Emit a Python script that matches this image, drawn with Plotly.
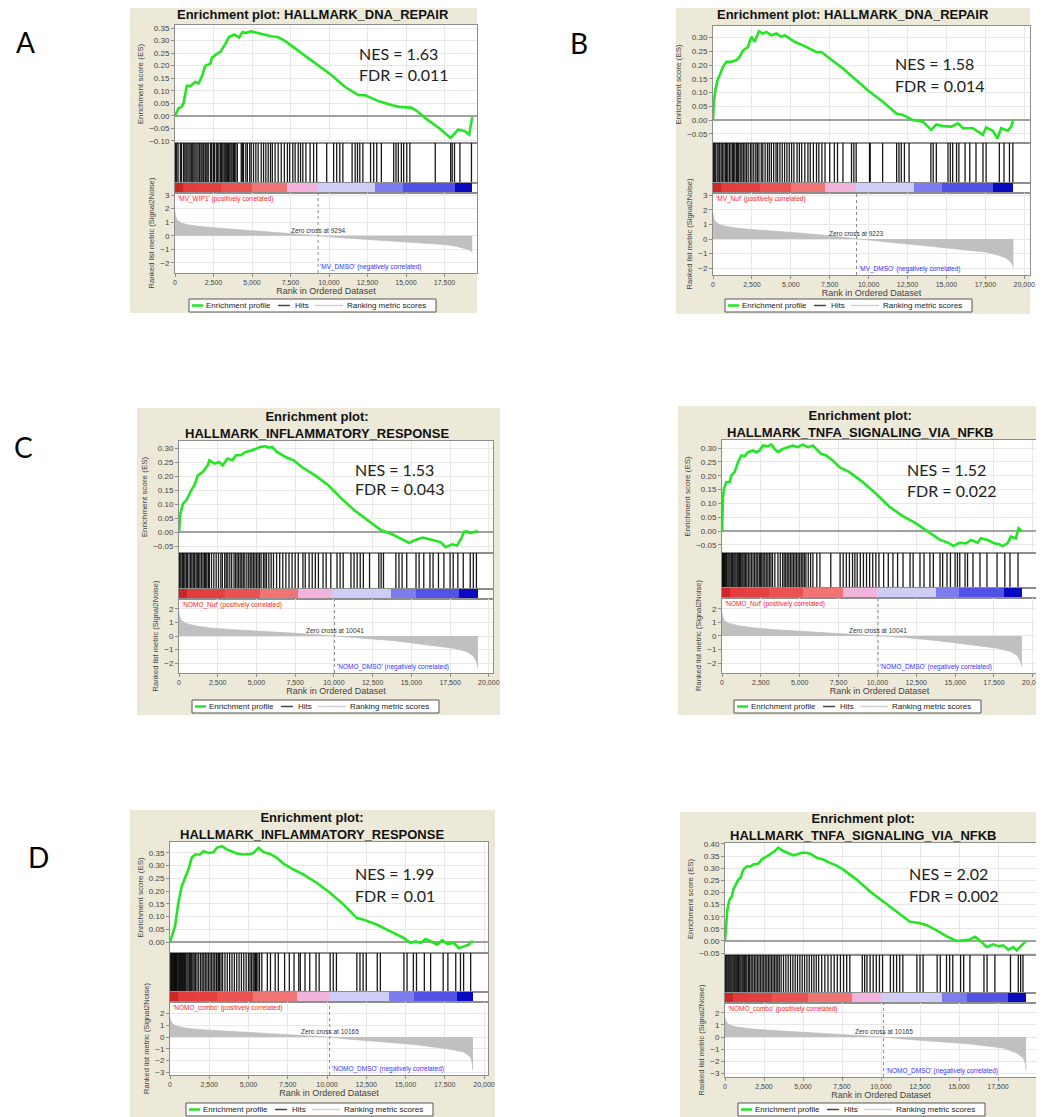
import plotly.graph_objects as go

# page is rendered with an 8px body margin: figure is shifted, so coordinates are compensated
OFF = 8
W, H = 1044 - OFF, 1117 - OFF

# ---------------- data ----------------
X_TICKS = [0, 2500, 5000, 7500, 10000, 12500, 15000, 17500, 20000]
X_TICK_TEXT = ["0", "2,500", "5,000", "7,500", "10,000", "12,500", "15,000", "17,500", "20,000"]
BAR_LEVELS = [1.0, 0.85, 0.8, 0.6, 0.4, 0.15, -0.15, -0.45, -0.65, -1.0]

# Panel A
A_title = "Enrichment plot: HALLMARK_DNA_REPAIR"
A_pos = "'MV_WIP1' (positively correlated)"
A_neg = "'MV_DMSO' (negatively correlated)"
A_nes, A_fdr = "1.63", "0.011"
A_zero_cross = 9294
A_es_ticks = [-0.10, -0.05, 0.0, 0.05, 0.10, 0.15, 0.20, 0.25, 0.30, 0.35]
A_met_ticks = [-2, -1, 0, 1, 2, 3]
A_es_rank = [0, 220, 440, 550, 770, 985, 1310, 1530, 1750, 1970, 2300, 2400, 2735, 2950, 3280, 3500, 3830, 4160, 4380, 4600,
             4920, 5360, 5800, 6240, 6670, 7110, 7550, 8420, 9300, 10170, 11050, 11930, 12360, 13240, 14110, 14550, 15320,
             15650, 16300, 17180, 17900, 18150, 18380, 18800, 19100, 19300]
A_es = [0.0, 0.03, 0.036, 0.05, 0.12, 0.118, 0.135, 0.13, 0.158, 0.20, 0.208, 0.232, 0.248, 0.255, 0.288, 0.314, 0.324, 0.312,
        0.334, 0.33, 0.337, 0.33, 0.324, 0.317, 0.314, 0.30, 0.28, 0.241, 0.20, 0.162, 0.115, 0.082, 0.082, 0.058, 0.042,
        0.036, 0.033, 0.022, -0.011, -0.05, -0.088, -0.07, -0.055, -0.06, -0.075, -0.005]
A_hits = [30, 110, 200, 350, 430, 560, 640, 720, 790, 900, 980, 1060, 1150, 1230, 1310, 1420, 1500, 1600, 1690, 1760, 1850,
          1950, 2010, 2080, 2160, 2300, 2380, 2490, 2560, 2680, 2760, 2850, 2950, 3030, 3110, 3190, 3260, 3330, 3410, 3480,
          3560, 3640, 3710, 3800, 3860, 3950, 4050, 4300, 4380, 4450, 4600, 4700, 4850, 4950, 5100, 5250, 5400, 5600, 5750,
          5900, 6050, 6200, 6320, 6500, 6700, 6900, 7100, 7300, 7450, 7650, 7800, 8000, 8150, 8300, 8500, 8770, 9000, 9200,
          9850, 10300, 10500, 10700, 10900, 11500, 11700, 11850, 12000, 12200, 12700, 12900, 13100, 13400, 14200, 14350,
          14500, 14700, 14850, 15050, 15250, 16900, 17900, 18000, 18150, 18500, 19250]
A_met_rank = [0, 50, 150, 400, 800, 1500, 2500, 4000, 5500, 7000, 8500, 9294, 10500, 12000, 13500, 15000, 16500, 17500,
              18300, 18800, 19100, 19250, 19300]
A_met = [1.75, 1.4, 1.15, 0.95, 0.82, 0.7, 0.6, 0.47, 0.36, 0.25, 0.12, 0.0, -0.12, -0.23, -0.33, -0.43, -0.55, -0.65,
         -0.78, -0.9, -1.02, -1.15, -1.25]
A_bar_edges = [0, 500, 1500, 3000, 5000, 7300, 9300, 13000, 14800, 18200, 19300]

# Panel B
B_title = "Enrichment plot: HALLMARK_DNA_REPAIR"
B_pos = "'MV_Nuf' (positively correlated)"
B_neg = "'MV_DMSO' (negatively correlated)"
B_nes, B_fdr = "1.58", "0.014"
B_zero_cross = 9223
B_es_ticks = [-0.05, 0.0, 0.05, 0.10, 0.15, 0.20, 0.25, 0.30]
B_met_ticks = [-2, -1, 0, 1, 2, 3]
B_es_rank = [0, 64, 170, 320, 430, 640, 860, 1180, 1500, 1710, 1930, 2250, 2460, 2680, 2950, 3210, 3430, 3750, 4070, 4390,
             4600, 4930, 5250, 5780, 6210, 6640, 6960, 7500, 8350, 9210, 10060, 10920, 11780, 12210, 12850, 13490, 14030,
             14350, 14780, 15310, 15740, 16060, 16700, 17340, 17550, 17980, 18270, 18520, 18950, 19160, 19300]
B_es = [0.0, 0.073, 0.115, 0.151, 0.163, 0.194, 0.212, 0.212, 0.218, 0.23, 0.254, 0.266, 0.303, 0.285, 0.323, 0.315, 0.321,
        0.309, 0.315, 0.303, 0.309, 0.297, 0.285, 0.272, 0.26, 0.248, 0.248, 0.224, 0.188, 0.145, 0.103, 0.067, 0.024,
        0.018, 0.0, -0.006, -0.036, -0.016, -0.022, -0.024, -0.012, -0.03, -0.03, -0.054, -0.027, -0.039, -0.067, -0.03,
        -0.039, -0.024, 0.002]
B_hits = [20, 80, 150, 260, 330, 420, 520, 600, 700, 800, 870, 950, 1050, 1150, 1250, 1320, 1400, 1500, 1580, 1650, 1750,
          1850, 1950, 2050, 2150, 2260, 2400, 2500, 2620, 2750, 2850, 2950, 3100, 3200, 3350, 3500, 3620, 3750, 3900, 4050,
          4150, 4300, 4450, 4600, 4750, 4900, 5050, 5200, 5400, 5550, 5700, 5900, 6100, 6250, 6450, 6650, 6800, 7000, 7200,
          7500, 7800, 8000, 8350, 8900, 9050, 9200, 10060, 10100, 10900, 11800, 11950, 12100, 12300, 12600, 14000, 14150,
          14350, 15100, 15250, 15400, 15650, 15800, 16200, 16500, 16900, 17350, 17550, 18400, 18700, 19050, 19270]
B_met_rank = [0, 50, 150, 400, 800, 1500, 2500, 4000, 5500, 7000, 8500, 9223, 10500, 12000, 13500, 15000, 16500, 17500,
              18300, 18800, 19100, 19250, 19300]
B_met = [1.8, 1.45, 1.2, 1.0, 0.88, 0.75, 0.65, 0.55, 0.42, 0.28, 0.1, 0.0, -0.15, -0.3, -0.45, -0.6, -0.76, -0.9, -1.1,
         -1.3, -1.55, -1.8, -2.0]
B_bar_edges = [0, 500, 1500, 3000, 5000, 7200, 9200, 12900, 14700, 18000, 19300]

# Panel C (left)
CL_title = "Enrichment plot:<br>HALLMARK_INFLAMMATORY_RESPONSE"
CL_pos = "'NOMO_Nuf' (positively correlated)"
CL_neg = "'NOMO_DMSO' (negatively correlated)"
CL_nes, CL_fdr = "1.53", "0.043"
CL_zero_cross = 10041
CL_es_ticks = [-0.05, 0.0, 0.05, 0.10, 0.15, 0.20, 0.25, 0.30]
CL_met_ticks = [-2, -1, 0, 1, 2]
CL_es_rank = [0, 85, 256, 470, 790, 1000, 1215, 1535, 1855, 1960, 2280, 2600, 2815, 3130, 3450, 3670, 3990, 4300, 4730,
              5050, 5270, 5590, 5800, 6010, 6330, 6870, 7400, 7930, 8780, 9640, 10490, 11340, 12200, 13050, 13690, 14330,
              14860, 15180, 15710, 16030, 16570, 16890, 17210, 17630, 17950, 18270, 18380, 18590, 18800, 19300]
CL_es = [0.0, 0.065, 0.101, 0.113, 0.149, 0.167, 0.202, 0.214, 0.238, 0.256, 0.244, 0.25, 0.238, 0.262, 0.256, 0.274,
         0.274, 0.286, 0.292, 0.298, 0.304, 0.306, 0.301, 0.304, 0.286, 0.268, 0.256, 0.232, 0.202, 0.167, 0.119, 0.077,
         0.042, 0.006, -0.006, -0.024, -0.039, -0.03, -0.02, -0.024, -0.03, -0.036, -0.054, -0.044, -0.048, -0.018, 0.0,
         0.002, -0.004, 0.004]
CL_hits = [10, 60, 130, 220, 300, 380, 470, 540, 650, 750, 830, 920, 1000, 1100, 1180, 1260, 1350, 1450, 1550, 1640, 1720,
           1800, 1900, 1960, 2100, 2250, 2400, 2550, 2700, 2800, 2950, 3050, 3150, 3280, 3400, 3550, 3650, 3750, 3850, 3950,
           4050, 4150, 4250, 4380, 4500, 4600, 4700, 4800, 4900, 5000, 5100, 5200, 5300, 5450, 5550, 5650, 5800, 5950,
           6100, 6300, 6500, 6700, 6900, 7100, 7300, 7500, 7700, 8000, 8150, 8400, 8600, 8800, 9000, 9300, 9500, 9800,
           10200, 10400, 10600, 11100, 11300, 11500, 11700, 11900, 12300, 12900, 13050, 13200, 14000, 14200, 14400, 14700,
           15300, 15500, 15800, 16200, 16400, 16750, 17100, 17500, 17700, 18000, 18350, 18800, 19000, 19200]
CL_met_rank = [0, 50, 150, 400, 1100, 2000, 3240, 5370, 7500, 9000, 10041, 11770, 13900, 16030, 17740, 18590, 19000,
               19200, 19300]
CL_met = [1.7, 1.4, 1.15, 0.95, 0.74, 0.6, 0.49, 0.32, 0.2, 0.09, 0.0, -0.12, -0.35, -0.67, -0.91, -1.16, -1.5, -1.9, -2.4]
CL_bar_edges = [0, 500, 1500, 3000, 5200, 7700, 9900, 13700, 15300, 18050, 19300]

# Panel C (right)
CR_title = "Enrichment plot:<br>HALLMARK_TNFA_SIGNALING_VIA_NFKB"
CR_pos = "'NOMO_Nuf' (positively correlated)"
CR_neg = "'NOMO_DMSO' (negatively correlated)"
CR_nes, CR_fdr = "1.52", "0.022"
CR_zero_cross = 10041
CR_es_ticks = [-0.05, 0.0, 0.05, 0.10, 0.15, 0.20, 0.25, 0.30]
CR_met_ticks = [-2, -1, 0, 1, 2]
CR_es_rank = [0, 64, 128, 280, 490, 600, 810, 1030, 1240, 1460, 1670, 1990, 2210, 2420, 2630, 2950, 3170, 3380, 3600,
              3920, 4240, 4560, 4880, 5200, 5520, 5850, 6060, 6380, 6700, 7130, 7560, 8200, 9060, 9910, 10770, 11630,
              12480, 13340, 13980, 14630, 14880, 15270, 15700, 16020, 16450, 16660, 17090, 17520, 17840, 18050, 18370,
              18590, 18910, 19080, 19300]
CR_es = [0.0, 0.124, 0.153, 0.177, 0.177, 0.201, 0.213, 0.249, 0.273, 0.27, 0.285, 0.291, 0.285, 0.291, 0.309, 0.306,
         0.313, 0.297, 0.285, 0.297, 0.303, 0.309, 0.303, 0.312, 0.303, 0.309, 0.297, 0.279, 0.273, 0.255, 0.231, 0.213,
         0.177, 0.135, 0.088, 0.054, 0.028, -0.006, -0.03, -0.044, -0.054, -0.042, -0.044, -0.032, -0.042, -0.026, -0.032,
         -0.044, -0.047, -0.054, -0.044, -0.02, -0.026, 0.01, 0.0]
CR_hits = [10, 50, 100, 160, 230, 300, 380, 450, 520, 600, 680, 760, 830, 900, 980, 1050, 1130, 1200, 1280, 1350, 1430,
           1520, 1600, 1700, 1800, 1900, 2000, 2100, 2200, 2300, 2400, 2480, 2560, 2650, 2750, 2850, 2950, 3050, 3150, 3250,
           3400, 3600, 3750, 3900, 4000, 4100, 4200, 4300, 4400, 4500, 4600, 4700, 4800, 4900, 5000, 5100, 5200, 5300,
           5400, 5550, 5700, 5850, 6100, 6300, 7000, 7600, 7800, 8000, 8200, 8400, 8550, 8700, 8900, 9100, 9300, 9500,
           9700, 9900, 10100, 10400, 10700, 11000, 11300, 11650, 12100, 12300, 12740, 13000, 13380, 13600, 14030, 14200,
           14480, 14700, 15000, 15150, 15300, 15640, 15800, 16150, 16600, 17050, 17700, 18200, 18530, 19050]
CR_met_rank = [0, 50, 150, 400, 1100, 2000, 3240, 5370, 7500, 9000, 10041, 11770, 13900, 16030, 17740, 18590, 19000,
               19200, 19300]
CR_met = [1.7, 1.4, 1.15, 0.95, 0.75, 0.6, 0.48, 0.32, 0.2, 0.09, 0.0, -0.12, -0.35, -0.65, -0.9, -1.15, -1.45, -1.85, -2.3]
CR_bar_edges = [0, 500, 1500, 3000, 5200, 7770, 9960, 13770, 15270, 18160, 19300]

# Panel D (left)
DL_title = "Enrichment plot:<br>HALLMARK_INFLAMMATORY_RESPONSE"
DL_pos = "'NOMO_combo' (positively correlated)"
DL_neg = "'NOMO_DMSO' (negatively correlated)"
DL_nes, DL_fdr = "1.99", "0.01"
DL_zero_cross = 10165
DL_es_ticks = [0.0, 0.05, 0.10, 0.15, 0.20, 0.25, 0.30, 0.35]
DL_met_ticks = [-3, -2, -1, 0, 1, 2]
DL_es_rank = [0, 106, 320, 530, 745, 957, 1170, 1380, 1600, 1915, 2130, 2450, 2765, 2980, 3300, 3620, 3940, 4255, 4680,
              5100, 5320, 5640, 5960, 6380, 6810, 7230, 7870, 8510, 9360, 10210, 11060, 11910, 12340, 13190, 14040, 14890,
              15320, 15640, 15960, 16280, 16600, 17020, 17340, 17660, 18090, 18400, 18720, 19040, 19150, 19300]
DL_es = [0.0, 0.022, 0.062, 0.154, 0.219, 0.252, 0.285, 0.331, 0.344, 0.344, 0.357, 0.35, 0.353, 0.37, 0.377, 0.364, 0.357,
         0.348, 0.344, 0.346, 0.35, 0.37, 0.353, 0.346, 0.331, 0.308, 0.285, 0.265, 0.232, 0.193, 0.147, 0.094, 0.088,
         0.068, 0.042, 0.016, -0.004, 0.003, -0.004, 0.012, 0.003, -0.01, 0.007, -0.007, -0.004, -0.024, -0.017, -0.01,
         -0.001, 0.003]
DL_hits = [20, 90, 150, 210, 260, 300, 350, 400, 440, 500, 560, 610, 680, 730, 800, 870, 930, 1000, 1080, 1150, 1230, 1300,
           1380, 1460, 1540, 1620, 1720, 1830, 1950, 2050, 2150, 2250, 2350, 2450, 2550, 2650, 2750, 2850, 2950, 3000, 3100,
           3150, 3250, 3350, 3500, 3650, 3800, 3950, 4100, 4250, 4400, 4550, 4700, 4850, 5000, 5100, 5200, 5300, 5400,
           5450, 5500, 5600, 5700, 5850, 6200, 6400, 6700, 6900, 7300, 7600, 7900, 8200, 8300, 8600, 8900, 9300, 9500,
           10200, 10400, 10600, 11900, 12100, 12300, 12500, 13200, 13400, 14900, 15100, 15500, 15700, 16200, 16600, 17400,
           17700, 18200, 18500, 18700, 19150]
DL_met_rank = [0, 50, 150, 400, 850, 1600, 2770, 4890, 7020, 9150, 10165, 11280, 13400, 15530, 17660, 18720, 19150, 19250,
               19300]
DL_met = [1.7, 1.4, 1.14, 0.95, 0.8, 0.67, 0.57, 0.4, 0.26, 0.11, 0.0, -0.17, -0.37, -0.63, -1.0, -1.29, -1.71, -2.3, -2.9]
DL_bar_edges = [0, 500, 1500, 3000, 5300, 8080, 10150, 13940, 15530, 18300, 19300]

# Panel D (right)
DR_title = "Enrichment plot:<br>HALLMARK_TNFA_SIGNALING_VIA_NFKB"
DR_pos = "'NOMO_combo' (positively correlated)"
DR_neg = "'NOMO_DMSO' (negatively correlated)"
DR_nes, DR_fdr = "2.02", "0.002"
DR_zero_cross = 10165
DR_es_ticks = [-0.05, 0.0, 0.05, 0.10, 0.15, 0.20, 0.25, 0.30, 0.35, 0.40]
DR_met_ticks = [-3, -2, -1, 0, 1, 2]
DR_es_rank = [0, 64, 150, 280, 430, 530, 700, 855, 1000, 1175, 1390, 1600, 1815, 2140, 2350, 2560, 2885, 3200, 3420, 3740,
              4060, 4380, 4590, 4910, 5235, 5555, 5875, 6300, 6730, 7160, 7585, 8440, 9295, 10150, 11000, 11860, 12390,
              12930, 13570, 14210, 14850, 15280, 15700, 16030, 16450, 16770, 17200, 17520, 17840, 18160, 18480, 18700,
              18910, 19120, 19300]
DR_es = [0.0, 0.072, 0.128, 0.169, 0.183, 0.211, 0.232, 0.253, 0.26, 0.294, 0.308, 0.306, 0.315, 0.319, 0.336, 0.343,
         0.357, 0.371, 0.385, 0.371, 0.361, 0.353, 0.357, 0.364, 0.364, 0.357, 0.343, 0.336, 0.322, 0.311, 0.294, 0.253,
         0.204, 0.163, 0.121, 0.079, 0.075, 0.065, 0.044, 0.019, 0.0, 0.003, 0.006, 0.017, -0.004, -0.025, -0.014, -0.022,
         -0.018, -0.036, -0.025, -0.039, -0.025, -0.011, 0.0]
DR_hits = [10, 60, 120, 190, 250, 320, 380, 450, 520, 590, 650, 720, 800, 870, 950, 1020, 1100, 1170, 1250, 1330, 1400,
           1500, 1580, 1680, 1780, 1880, 1980, 2080, 2180, 2280, 2380, 2480, 2580, 2680, 2780, 2880, 2980, 3080, 3180, 3280,
           3380, 3480, 3600, 3750, 3900, 4050, 4200, 4350, 4500, 4650, 4800, 4950, 5100, 5250, 5400, 5550, 5700, 5850,
           6000, 6200, 6400, 6600, 6800, 7000, 7200, 7400, 7600, 7800, 8000, 8800, 8950, 9100, 9300, 9500, 9700, 9900,
           10100, 10600, 10800, 11000, 11200, 11400, 12300, 12500, 12700, 13600, 13800, 14200, 14400, 14600, 15100, 15300,
           15700, 16600, 16800, 17300, 18300, 18800, 18950, 19100]
DR_met_rank = [0, 50, 150, 400, 750, 1600, 2880, 5020, 7160, 9300, 10165, 11430, 13570, 15700, 17840, 18700, 19120, 19250,
               19300]
DR_met = [1.6, 1.35, 1.12, 0.95, 0.83, 0.68, 0.56, 0.39, 0.25, 0.11, 0.0, -0.17, -0.36, -0.58, -0.92, -1.33, -1.75, -2.2,
          -2.75]
DR_bar_edges = [0, 500, 1500, 3000, 5300, 8120, 10090, 13890, 15490, 18160, 19300]

# ---------------- layout geometry (page pixels) ----------------
PANELS = [
    dict(title=A_title, pos=A_pos, neg=A_neg, nes=A_nes, fdr=A_fdr, zc=A_zero_cross, es_ticks=A_es_ticks,
         met_ticks=A_met_ticks, es_rank=A_es_rank, es=A_es, hits=A_hits, met_rank=A_met_rank, met=A_met,
         bar=A_bar_edges,
         bg=(130, 3, 477, 313), px0=175, px1=477, xmax=19610, title_xy=(313, 15), tsize=13,
         es_px=(25, 143), es_rng=(-0.108, 0.362), hits_px=(143, 183), bar_px=(183, 193), met_px=(193, 273),
         met_rng=(-2.74, 3.15), leg=(189, 299), nes_xy=(357, 53, 75)),
    dict(title=B_title, pos=B_pos, neg=B_neg, nes=B_nes, fdr=B_fdr, zc=B_zero_cross, es_ticks=B_es_ticks,
         met_ticks=B_met_ticks, es_rank=B_es_rank, es=B_es, hits=B_hits, met_rank=B_met_rank, met=B_met,
         bar=B_bar_edges,
         bg=(676, 6, 1030, 314), px0=713, px1=1030, xmax=20370, title_xy=(853, 15), tsize=13,
         es_px=(26, 143), es_rng=(-0.0836, 0.3425), hits_px=(143, 183), bar_px=(183, 193), met_px=(193, 275),
         met_rng=(-2.48, 3.17), leg=(725, 299), nes_xy=(893, 63, 86)),
    dict(title=CL_title, pos=CL_pos, neg=CL_neg, nes=CL_nes, fdr=CL_fdr, zc=CL_zero_cross, es_ticks=CL_es_ticks,
         met_ticks=CL_met_ticks, es_rank=CL_es_rank, es=CL_es, hits=CL_hits, met_rank=CL_met_rank, met=CL_met,
         bar=CL_bar_edges,
         bg=(137, 408, 500, 715), px0=179, px1=493, xmax=20270, title_xy=(317, 425), tsize=13,
         es_px=(441, 553), es_rng=(-0.075, 0.325), hits_px=(553, 589), bar_px=(589, 599), met_px=(599, 673),
         met_rng=(-2.74, 2.74), leg=(192, 700), nes_xy=(353, 470, 489)),
    dict(title=CR_title, pos=CR_pos, neg=CR_neg, nes=CR_nes, fdr=CR_fdr, zc=CR_zero_cross, es_ticks=CR_es_ticks,
         met_ticks=CR_met_ticks, es_rank=CR_es_rank, es=CR_es, hits=CR_hits, met_rank=CR_met_rank, met=CR_met,
         bar=CR_bar_edges,
         bg=(678, 406, 1042, 715), px0=722, px1=1037, xmax=20270, title_xy=(860, 424), tsize=13,
         es_px=(440, 553), es_rng=(-0.079, 0.329), hits_px=(553, 588), bar_px=(588, 598), met_px=(598, 673),
         met_rng=(-2.74, 2.81), leg=(734, 700), nes_xy=(905, 470, 490)),
    dict(title=DL_title, pos=DL_pos, neg=DL_neg, nes=DL_nes, fdr=DL_fdr, zc=DL_zero_cross, es_ticks=DL_es_ticks,
         met_ticks=DL_met_ticks, es_rank=DL_es_rank, es=DL_es, hits=DL_hits, met_rank=DL_met_rank, met=DL_met,
         bar=DL_bar_edges,
         bg=(130, 810, 495, 1117), px0=170, px1=488, xmax=20255, title_xy=(312, 826), tsize=13,
         es_px=(842, 953), es_rng=(-0.043, 0.393), hits_px=(953, 992), bar_px=(992, 1002), met_px=(1002, 1075),
         met_rng=(-3.25, 3.0), leg=(186, 1103), nes_xy=(353, 873, 895)),
    dict(title=DR_title, pos=DR_pos, neg=DR_neg, nes=DR_nes, fdr=DR_fdr, zc=DR_zero_cross, es_ticks=DR_es_ticks,
         met_ticks=DR_met_ticks, es_rank=DR_es_rank, es=DR_es, hits=DR_hits, met_rank=DR_met_rank, met=DR_met,
         bar=DR_bar_edges,
         bg=(680, 812, 1044, 1117), px0=725, px1=1037, xmax=20000, title_xy=(863, 827), tsize=13,
         es_px=(843, 955), es_rng=(-0.058, 0.404), hits_px=(955, 993), bar_px=(993, 1003), met_px=(1003, 1077),
         met_rng=(-3.33, 2.83), leg=(738, 1103), nes_xy=(907, 873, 895)),
]

LETTERS = [("A", 25, 42), ("B", 579, 43), ("C", 23, 447), ("D", 38, 857)]

FONT = "Liberation Sans, Arial, sans-serif"
NES_FONT = "Lato, Carlito, Open Sans, sans-serif"
BEIGE = "#ECE9D8"
BORDER = "#8E8E8E"
GRID = "#E8E8E8"
GREEN = "#22E622"
BAR_CS = [[0.0, "#0A0AC0"], [0.175, "#5252E6"], [0.275, "#7C7CEE"], [0.425, "#CDCDF6"], [0.5, "#EADCF0"],
          [0.575, "#F2B4DC"], [0.7, "#F07474"], [0.8, "#EA5252"], [0.925, "#E23C3C"], [1.0, "#CC2626"]]


def fx(px):
    return (px - OFF) / W


def fy(py):
    return 1 - (py - OFF) / H


fig = go.Figure()
layout = dict(width=W, height=H, margin=dict(l=0, r=0, t=0, b=0), paper_bgcolor="white",
              plot_bgcolor="rgba(0,0,0,0)", showlegend=False, font=dict(family=FONT, color="#333"))
shapes = []
annotations = []


def axname(kind, i):
    return kind + ("axis" if i == 1 else f"axis{i}")


def ref(kind, i):
    return kind if i == 1 else f"{kind}{i}"


for p, P in enumerate(PANELS):
    i_es, i_hit, i_bar, i_met = p * 4 + 1, p * 4 + 2, p * 4 + 3, p * 4 + 4
    xdom = [max(0.0, fx(P["px0"])), min(1.0, fx(P["px1"]))]
    xr = [0, P["xmax"]]

    # backgrounds
    bx0, by0, bx1, by1 = P["bg"]
    shapes.append(dict(type="rect", xref="paper", yref="paper", x0=fx(bx0), x1=fx(bx1), y0=fy(by1), y1=fy(by0),
                       fillcolor=BEIGE, line=dict(width=0), layer="below"))
    shapes.append(dict(type="rect", xref="paper", yref="paper", x0=xdom[0], x1=xdom[1], y0=fy(P["met_px"][1]),
                       y1=fy(P["es_px"][0]), fillcolor="white", line=dict(width=0), layer="below"))

    base_x = dict(domain=xdom, range=xr, showline=True, mirror=True, linecolor=BORDER, linewidth=1, zeroline=False,
                  fixedrange=True, automargin=False)
    base_y = dict(showline=True, mirror=True, linecolor=BORDER, linewidth=1, fixedrange=True, automargin=False)

    # ES axes
    layout[axname("x", i_es)] = dict(base_x, anchor=ref("y", i_es), showticklabels=False, ticks="",
                                     tickvals=X_TICKS, showgrid=True, gridcolor=GRID)
    layout[axname("y", i_es)] = dict(base_y, anchor=ref("x", i_es), domain=[fy(P["es_px"][1]), fy(P["es_px"][0])],
                                     range=list(P["es_rng"]), tickvals=P["es_ticks"], tickformat=".2f",
                                     ticks="outside", ticklen=3, tickcolor=BORDER,
                                     tickfont=dict(size=8, color="#444"), showgrid=True, gridcolor=GRID,
                                     zeroline=True, zerolinecolor="#A0A0A0", zerolinewidth=1.5,
                                     title=dict(text="Enrichment score (ES)", font=dict(size=8, color="#444"),
                                                standoff=4))
    # hits axes
    layout[axname("x", i_hit)] = dict(base_x, anchor=ref("y", i_hit), showticklabels=False, ticks="", showgrid=False)
    layout[axname("y", i_hit)] = dict(base_y, anchor=ref("x", i_hit), domain=[fy(P["hits_px"][1]), fy(P["hits_px"][0])],
                                      range=[0, 1], showticklabels=False, ticks="", showgrid=False, zeroline=False)
    # colour bar axes
    layout[axname("x", i_bar)] = dict(base_x, anchor=ref("y", i_bar), showticklabels=False, ticks="", showgrid=False)
    layout[axname("y", i_bar)] = dict(base_y, anchor=ref("x", i_bar), domain=[fy(P["bar_px"][1]), fy(P["bar_px"][0])],
                                      range=[0, 1], showticklabels=False, ticks="", showgrid=False, zeroline=False)
    # metric axes
    layout[axname("x", i_met)] = dict(base_x, anchor=ref("y", i_met), tickvals=X_TICKS, ticktext=X_TICK_TEXT,
                                      ticks="outside", ticklen=3, tickcolor=BORDER,
                                      tickfont=dict(size=7, color="#444"), showgrid=True, gridcolor=GRID,
                                      title=dict(text="Rank in Ordered Dataset", font=dict(size=9, color="#444"),
                                                 standoff=2))
    layout[axname("y", i_met)] = dict(base_y, anchor=ref("x", i_met), domain=[fy(P["met_px"][1]), fy(P["met_px"][0])],
                                      range=list(P["met_rng"]), tickvals=P["met_ticks"], ticks="outside", ticklen=3,
                                      tickcolor=BORDER, tickfont=dict(size=8, color="#444"), showgrid=True,
                                      gridcolor=GRID, zeroline=False,
                                      title=dict(text="Ranked list metric (Signal2Noise)",
                                                 font=dict(size=7.5, color="#444"), standoff=4))

    # traces
    fig.add_trace(go.Heatmap(x=P["bar"], y=[0, 1], z=[BAR_LEVELS], colorscale=BAR_CS, zmin=-1, zmax=1,
                             showscale=False, hoverinfo="skip", xaxis=ref("x", i_bar), yaxis=ref("y", i_bar)))
    hx, hy = [], []
    for h in P["hits"]:
        hx += [h, h, None]
        hy += [0, 1, None]
    fig.add_trace(go.Scatter(x=hx, y=hy, mode="lines", line=dict(color="rgba(0,0,0,0.9)", width=1.3),
                             hoverinfo="skip", xaxis=ref("x", i_hit), yaxis=ref("y", i_hit), name="Hits"))
    fig.add_trace(go.Scatter(x=P["met_rank"], y=P["met"], mode="lines", fill="tozeroy", fillcolor="#C0C0C0",
                             line=dict(color="#B8B8B8", width=0.6), hoverinfo="skip",
                             xaxis=ref("x", i_met), yaxis=ref("y", i_met), name="Ranking metric scores"))
    fig.add_trace(go.Scatter(x=P["es_rank"], y=P["es"], mode="lines", line=dict(color=GREEN, width=2.6),
                             hoverinfo="skip", xaxis=ref("x", i_es), yaxis=ref("y", i_es),
                             name="Enrichment profile"))

    # zero cross
    shapes.append(dict(type="line", xref=ref("x", i_met), yref=ref("y", i_met) + " domain", x0=P["zc"], x1=P["zc"],
                       y0=0, y1=1, line=dict(color="#8A8A8A", width=1, dash="dot")))
    annotations.append(dict(x=P["zc"], y=0, xref=ref("x", i_met), yref=ref("y", i_met), text=f"Zero cross at {P['zc']}",
                            showarrow=False, xanchor="center", yanchor="bottom", font=dict(size=6.5, color="#333")))
    annotations.append(dict(x=0.002, y=1, xref=ref("x", i_met) + " domain", yref=ref("y", i_met) + " domain",
                            text=P["pos"], showarrow=False, xanchor="left", yanchor="top",
                            font=dict(size=6.5, color="#FF2020")))
    annotations.append(dict(x=P["zc"], y=0, xref=ref("x", i_met), yref=ref("y", i_met) + " domain",
                            text=P["neg"], showarrow=False, xanchor="left", yanchor="bottom",
                            font=dict(size=6.5, color="#3333FF")))

    # title
    tx, ty = P["title_xy"]
    annotations.append(dict(x=fx(tx), y=fy(ty), xref="paper", yref="paper", text="<b>" + P["title"] + "</b>",
                            showarrow=False, xanchor="center", yanchor="middle",
                            font=dict(size=P["tsize"], color="#111")))
    # NES / FDR
    nx, ny1, ny2 = P["nes_xy"]
    annotations.append(dict(x=fx(nx), y=fy(ny1), xref="paper", yref="paper", text=f"NES = {P['nes']}",
                            showarrow=False, xanchor="left", yanchor="middle",
                            font=dict(family=NES_FONT, size=16, color="#222")))
    annotations.append(dict(x=fx(nx), y=fy(ny2), xref="paper", yref="paper", text=f"FDR = {P['fdr']}",
                            showarrow=False, xanchor="left", yanchor="middle",
                            font=dict(family=NES_FONT, size=16, color="#222")))

    # legend box
    lx, ly = P["leg"]
    lh = 13
    cy = fy(ly + lh / 2)
    shapes.append(dict(type="rect", xref="paper", yref="paper", x0=fx(lx), x1=fx(lx + 247), y0=fy(ly + lh),
                       y1=fy(ly), fillcolor="white", line=dict(color="#555", width=1)))
    for (a, b, col, wd) in [(3, 14, GREEN, 2.5), (89, 101, "#444", 1.5), (126, 154, "#D0D0D0", 1.5)]:
        shapes.append(dict(type="line", xref="paper", yref="paper", x0=fx(lx + a), x1=fx(lx + b), y0=cy, y1=cy,
                           line=dict(color=col, width=wd)))
    for (a, txt) in [(15, "Enrichment profile"), (104, "Hits"), (156, "Ranking metric scores")]:
        annotations.append(dict(x=fx(lx + a), y=cy, xref="paper", yref="paper", text=txt, showarrow=False,
                                xanchor="left", yanchor="middle", font=dict(size=8, color="#222")))

for (t, x, y) in LETTERS:
    annotations.append(dict(x=fx(x), y=fy(y), xref="paper", yref="paper", text=t, showarrow=False,
                            xanchor="center", yanchor="middle", font=dict(family=NES_FONT, size=28, color="#000")))

layout["shapes"] = shapes
layout["annotations"] = annotations
fig.update_layout(**layout)
fig.write_html("out.html")
